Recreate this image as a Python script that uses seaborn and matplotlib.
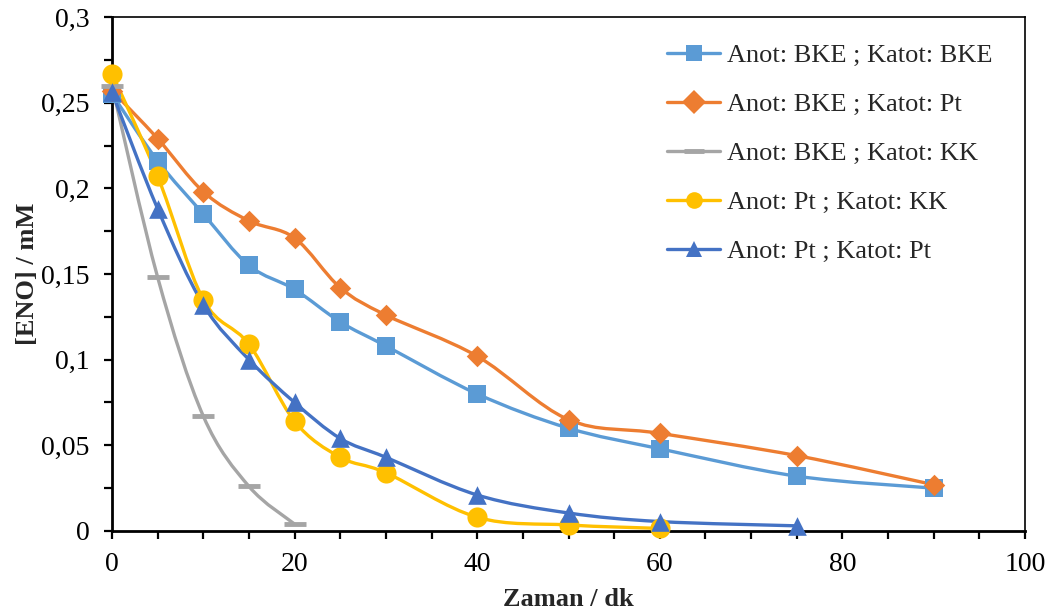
import numpy as np
import pandas as pd
import seaborn as sns
import matplotlib.pyplot as plt
from matplotlib.path import Path
from matplotlib.patches import PathPatch
from matplotlib.lines import Line2D
from matplotlib.ticker import MultipleLocator, FuncFormatter

# data
t_bke_bke = [0, 5, 10, 15, 20, 25, 30, 40, 50, 60, 75, 90]
c_bke_bke = [0.255, 0.216, 0.185, 0.155, 0.141, 0.122, 0.108, 0.080, 0.060, 0.048, 0.032, 0.025]

t_bke_pt = [0, 5, 10, 15, 20, 25, 30, 40, 50, 60, 75, 90]
c_bke_pt = [0.257, 0.229, 0.198, 0.181, 0.171, 0.142, 0.126, 0.102, 0.065, 0.057, 0.044, 0.027]

t_bke_kk = [0, 5, 10, 15, 20]
c_bke_kk = [0.260, 0.148, 0.067, 0.026, 0.004]

t_pt_kk = [0, 5, 10, 15, 20, 25, 30, 40, 50, 60]
c_pt_kk = [0.267, 0.207, 0.135, 0.109, 0.064, 0.043, 0.034, 0.008, 0.0035, 0.0015]

t_pt_pt = [0, 5, 10, 15, 20, 25, 30, 40, 50, 60, 75]
c_pt_pt = [0.256, 0.188, 0.132, 0.100, 0.075, 0.054, 0.043, 0.021, 0.0105, 0.0055, 0.003]

labels = ["Anot: BKE ; Katot: BKE", "Anot: BKE ; Katot: Pt", "Anot: BKE ; Katot: KK",
          "Anot: Pt ; Katot: KK", "Anot: Pt ; Katot: Pt"]
colors = ["#5B9BD5", "#ED7D31", "#A5A5A5", "#FFC000", "#4472C4"]
markers = ["s", "D", "_", "o", "^"]
msizes = [160, 120, 260, 210, 180]

series = [(t_bke_bke, c_bke_bke), (t_bke_pt, c_bke_pt), (t_bke_kk, c_bke_kk),
          (t_pt_kk, c_pt_kk), (t_pt_pt, c_pt_pt)]

frames = []
for lab, (t, c) in zip(labels, series):
    frames.append(pd.DataFrame({"t": t, "c": c, "seri": lab}))
df = pd.concat(frames, ignore_index=True)

sns.set_style("ticks")
plt.rcParams['font.family'] = ['Liberation Serif', 'DejaVu Serif']

fig = plt.figure(figsize=(10.51, 6.14), dpi=100)
ax = fig.add_axes([0.1066, 0.1352, 0.8687, 0.8371])


def smooth_path(x, y):
    # Excel-like smoothed line: cubic Bezier with Catmull-Rom control points
    pts = np.column_stack([x, y]).astype(float)
    verts = [pts[0]]
    codes = [Path.MOVETO]
    n = len(pts)
    for i in range(n - 1):
        p0 = pts[i - 1] if i > 0 else pts[i]
        p1 = pts[i]
        p2 = pts[i + 1]
        p3 = pts[i + 2] if i + 2 < n else pts[i + 1]
        verts += [p1 + (p2 - p0) / 6, p2 - (p3 - p1) / 6, p2]
        codes += [Path.CURVE4] * 3
    return Path(verts, codes)


for lab, col in zip(labels, colors):
    d = df[df["seri"] == lab]
    ax.add_patch(PathPatch(smooth_path(d["t"].values, d["c"].values),
                           facecolor="none", edgecolor=col, lw=2.4, zorder=2))

for lab, col, m, s in zip(labels, colors, markers, msizes):
    d = df[df["seri"] == lab]
    if m == "_":
        sns.scatterplot(data=d, x="t", y="c", marker=m, s=s, color=col,
                        linewidth=3.5, edgecolor=col, ax=ax, zorder=3, legend=False,
                        clip_on=False)
    else:
        sns.scatterplot(data=d, x="t", y="c", marker=m, s=s, color=col,
                        linewidth=0, ax=ax, zorder=3, legend=False, clip_on=False)

ax.set_xlim(0, 100)
ax.set_ylim(0, 0.3)
ax.xaxis.set_major_locator(MultipleLocator(20))
ax.xaxis.set_minor_locator(MultipleLocator(5))
ax.yaxis.set_major_locator(MultipleLocator(0.05))
ax.yaxis.set_minor_locator(MultipleLocator(0.025))
ax.yaxis.set_major_formatter(FuncFormatter(lambda v, p: f"{v:g}".replace(".", ",")))
ax.tick_params(which="both", direction="out", width=1.6, length=6, labelsize=20, colors="black")
ax.tick_params(axis="x", pad=9)
ax.tick_params(axis="y", pad=10)

for side in ["left", "bottom"]:
    ax.spines[side].set_linewidth(2)
for side in ["top", "right"]:
    ax.spines[side].set_linewidth(1.2)
for sp in ax.spines.values():
    sp.set_color("black")

ax.set_xlabel("Zaman / dk", fontsize=19, fontweight="bold", labelpad=8)
ax.set_ylabel("[ENO] / mM", fontsize=19, fontweight="bold", labelpad=2)

handles = []
for lab, col, m in zip(labels, colors, markers):
    if m == "_":
        handles.append(Line2D([], [], color=col, lw=2.4, marker=m, markersize=15, markeredgewidth=3.5))
    else:
        handles.append(Line2D([], [], color=col, lw=2.4, marker=m, markersize=12, markeredgewidth=0))
ax.legend(handles, labels, loc="upper left", bbox_to_anchor=(0.582, 0.995), frameon=False,
          fontsize=19, handlelength=2.0, handletextpad=0.25, labelspacing=0.97)

fig.savefig("out.png", dpi=100)
